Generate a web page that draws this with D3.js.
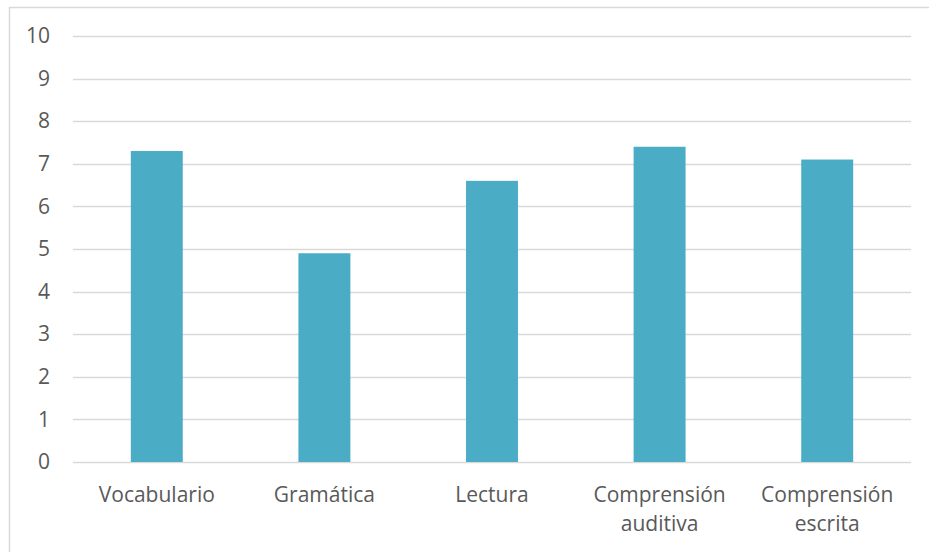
<!DOCTYPE html>
<html>
<head>
<meta charset="utf-8">
<script src="https://cdn.jsdelivr.net/npm/d3@7"></script>
<style>
  body { margin: 0; background: #fff; }
  text { font-family: "Open Sans", "Noto Sans", sans-serif; fill: #595959; }
</style>
</head>
<body>
<script>
// chart size
var w = 929;
var h = 552;

// data
var categories = ["Vocabulario", "Gramática", "Lectura", "Comprensión auditiva", "Comprensión escrita"];
var scores = [7.3, 4.9, 6.6, 7.4, 7.1];
var yTicks = [0, 1, 2, 3, 4, 5, 6, 7, 8, 9, 10];

var margin = {left: 73, right: 18, top: 36, bottom: 90};

var svg = d3.select("body")
        .append("svg")
        .attr("width", w)
        .attr("height", h);

// outer chart border (only left and top visible in the crop)
svg.append("rect")
    .attr("x", 9.5)
    .attr("y", 7.5)
    .attr("width", w + 20)
    .attr("height", h + 20)
    .attr("fill", "none")
    .attr("stroke", "#d9d9d9")
    .attr("stroke-width", 1.5);

var x = d3.scaleBand()
        .domain(categories)
        .range([margin.left, w - margin.right])
        .paddingInner(0.69)
        .paddingOuter(0.345);

var y = d3.scaleLinear()
        .domain([0, 10])
        .range([h - margin.bottom, margin.top]);

// gridlines
svg.append("g")
    .selectAll("line")
    .data(yTicks)
    .enter().append("line")
    .attr("x1", margin.left)
    .attr("x2", w - margin.right)
    .attr("y1", function(d) { return Math.round(y(d)) + 0.5; })
    .attr("y2", function(d) { return Math.round(y(d)) + 0.5; })
    .attr("stroke", "#d9d9d9")
    .attr("stroke-width", 1.5);

// y axis labels
var yAxis = svg.append("g")
    .attr("transform", "translate(" + margin.left + ",0)")
    .call(d3.axisLeft(y).tickValues(yTicks).tickSize(0).tickPadding(23));
yAxis.select(".domain").remove();
yAxis.attr("font-size", null).attr("font-family", null);
yAxis.selectAll("text")
    .style("font-size", "21px")
    .attr("fill", "#595959");

// bars
svg.selectAll(".bar")
    .data(scores)
    .enter().append("rect")
    .attr("class", "bar")
    .attr("x", function(d, i) { return x(categories[i]); })
    .attr("y", function(d) { return y(d); })
    .attr("width", x.bandwidth())
    .attr("height", function(d) { return y(0) - y(d); })
    .attr("fill", "#4bacc6");

// category labels, wrapped on two lines where needed
var labels = svg.append("g")
    .selectAll("text")
    .data(categories)
    .enter().append("text")
    .attr("text-anchor", "middle")
    .attr("x", function(d) { return x(d) + x.bandwidth() / 2; })
    .attr("y", h - margin.bottom + 40)
    .style("font-size", "21px");

labels.each(function(d) {
    var parts = d.split(" ");
    var t = d3.select(this);
    parts.forEach(function(p, i) {
        t.append("tspan")
            .attr("x", t.attr("x"))
            .attr("dy", i === 0 ? 0 : 29)
            .text(p);
    });
});
</script>
</body>
</html>
